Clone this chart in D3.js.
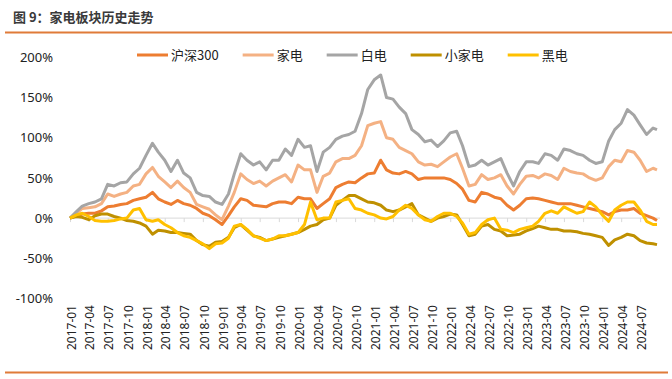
<!DOCTYPE html>
<html><head><meta charset="utf-8">
<script src="https://cdn.jsdelivr.net/npm/d3@7"></script>
<style>
html,body{margin:0;padding:0;background:#fff;}
svg{display:block;font-family:"Noto Sans CJK SC","Noto Sans",sans-serif;}
</style></head>
<body><svg id="c" width="672" height="379"></svg>
<script>
// ---- data (monthly readings, % change since 2017-01) ----
const seriesNames = ["沪深300", "家电", "白电", "小家电", "黑电"];
const seriesColors = ["#ED7D31", "#F4B183", "#A5A5A5", "#BF9000", "#FFC000"];
const startDate = "2017-01-01";
const endDate = "2024-09-20";
const hs300 = [0,3,5,6,6,9,14,15,17,18,22,24,26,32,24,20,17,22,18,16,12,6,3,-2,-8,3,14,24,22,16,15,14,18,20,20,18,26,24,24,12,18,24,38,42,45,44,50,55,56,72,60,56,55,58,55,48,50,50,50,50,48,43,36,22,20,32,30,26,24,16,10,16,24,25,24,22,20,18,18,18,16,14,12,10,8,4,8,10,10,12,6,3,0,-3];
const jiadian = [0,6,12,13,14,18,30,27,30,32,40,42,55,63,52,45,38,46,38,32,17,14,11,4,-2,15,32,55,48,43,46,40,46,50,54,45,66,60,60,32,52,56,70,74,74,78,90,115,118,120,100,98,88,84,80,70,66,67,64,70,76,80,62,40,42,54,48,50,54,40,30,42,52,53,50,55,53,48,62,58,56,55,50,47,50,64,72,70,84,82,72,58,62,60];
const baidian = [0,8,15,18,20,24,42,40,44,45,55,62,78,93,82,72,58,72,56,50,32,28,27,20,17,30,55,80,72,66,70,60,72,72,86,78,98,88,90,58,82,88,98,102,104,108,130,160,172,178,150,148,138,130,110,104,95,97,89,96,106,108,90,64,66,72,66,70,74,56,40,58,70,70,68,80,78,72,86,84,80,78,72,68,70,96,110,118,135,128,116,104,112,110];
const xiaojiadian = [0,2,1,-2,3,5,5,2,0,-3,-4,-6,-10,-20,-15,-16,-18,-18,-19,-20,-28,-33,-35,-30,-29,-24,-12,-8,-15,-22,-24,-28,-26,-24,-22,-20,-18,-14,-10,-8,-2,0,16,22,28,28,24,20,19,16,10,8,10,14,18,4,0,-4,0,2,5,4,-8,-22,-20,-10,-8,-14,-16,-22,-21,-20,-16,-13,-10,-12,-14,-14,-16,-16,-17,-19,-20,-22,-24,-34,-27,-24,-20,-22,-28,-31,-32,-33];
const heidian = [0,4,6,2,-3,-4,-4,-3,-1,0,10,12,-2,-4,-2,-8,-12,-18,-22,-24,-28,-32,-38,-32,-31,-25,-10,-8,-14,-22,-25,-28,-26,-22,-22,-20,-18,-8,20,-2,0,0,20,22,24,12,10,6,4,0,-1,2,10,16,12,4,-2,-4,2,6,6,2,-6,-20,-18,-8,-2,0,-14,-15,-18,-14,-12,-10,-4,6,9,6,14,10,6,8,20,14,4,-4,10,16,20,20,10,-4,-8,-8];
const values = [hs300, jiadian, baidian, xiaojiadian, heidian];
const yTicks = [200, 150, 100, 50, 0, -50, -100];
const title = "图 9：家电板块历史走势";

// ---- build ----
const parse = d3.timeParse("%Y-%m-%d");
const d0 = parse(startDate), d1 = parse(endDate);
const dates = d3.timeMonth.range(d0, d1).concat([d1]);

const svg = d3.select("#c");
const x = d3.scaleTime().domain([d0, d1]).range([70, 657]);
const y = d3.scaleLinear().domain([-100, 200]).range([298.5, 57.3]);

// title and rules
svg.append("text").attr("x", 13).attr("y", 22).attr("font-size", 13).attr("font-weight", "bold")
  .attr("fill", "#3a3a3a").text(title);
svg.append("line").attr("x1", 5).attr("x2", 672).attr("y1", 32.5).attr("y2", 32.5)
  .attr("stroke", "#E07B39").attr("stroke-width", 2);
svg.append("line").attr("x1", 5).attr("x2", 668).attr("y1", 372.5).attr("y2", 372.5)
  .attr("stroke", "#E07B39").attr("stroke-width", 2);

// y axis labels
const yAxis = d3.axisLeft(y).tickValues(yTicks).tickSize(0).tickPadding(0).tickFormat(d => d + "%");
const gy = svg.append("g").attr("transform", "translate(53,0)").call(yAxis);
gy.select(".domain").remove();
gy.selectAll("text").attr("font-size", 13).attr("fill", "#222").attr("font-family", "'Noto Sans',sans-serif");

// x axis at 0%
const qTicks = d3.timeMonth.every(3).range(d0, d3.timeDay.offset(d1, 1));
const xAxis = d3.axisBottom(x).tickValues(qTicks).tickSize(4).tickFormat(() => "");
const gx = svg.append("g").attr("transform", `translate(0,${y(0)})`).call(xAxis);
gx.select(".domain").attr("stroke", "#D9D9D9").attr("d", `M70,0H660`);
gx.selectAll(".tick line").attr("stroke", "#D9D9D9");

// x labels at bottom, rotated
const fmt = d3.timeFormat("%Y-%m");
svg.append("g").selectAll("text").data(qTicks).join("text")
  .attr("transform", d => `translate(${x(d) + 1.5},305) rotate(-90)`)
  .attr("text-anchor", "end").attr("dy", "0.35em")
  .attr("font-size", 12).attr("fill", "#222").attr("font-family", "'Noto Sans',sans-serif")
  .text(d => fmt(d));

// lines
const line = d3.line().x((d, i) => x(dates[i])).y(d => y(d)).curve(d3.curveLinear);
svg.append("g").selectAll("path").data(values).join("path")
  .attr("d", d => line(d)).attr("fill", "none")
  .attr("stroke", (d, i) => seriesColors[i]).attr("stroke-width", 3)
  .attr("stroke-linejoin", "round");

// legend
const lg = svg.append("g");
let lx = 137;
seriesNames.forEach((n, i) => {
  lg.append("line").attr("x1", lx).attr("x2", lx + 31).attr("y1", 55).attr("y2", 55)
    .attr("stroke", seriesColors[i]).attr("stroke-width", 3);
  const t = lg.append("text").attr("x", lx + 34).attr("y", 55).attr("dy", "0.35em")
    .attr("font-size", 13).attr("fill", "#222").text(n);
  lx += 34 + t.node().getComputedTextLength() + 24;
});
</script></body></html>
